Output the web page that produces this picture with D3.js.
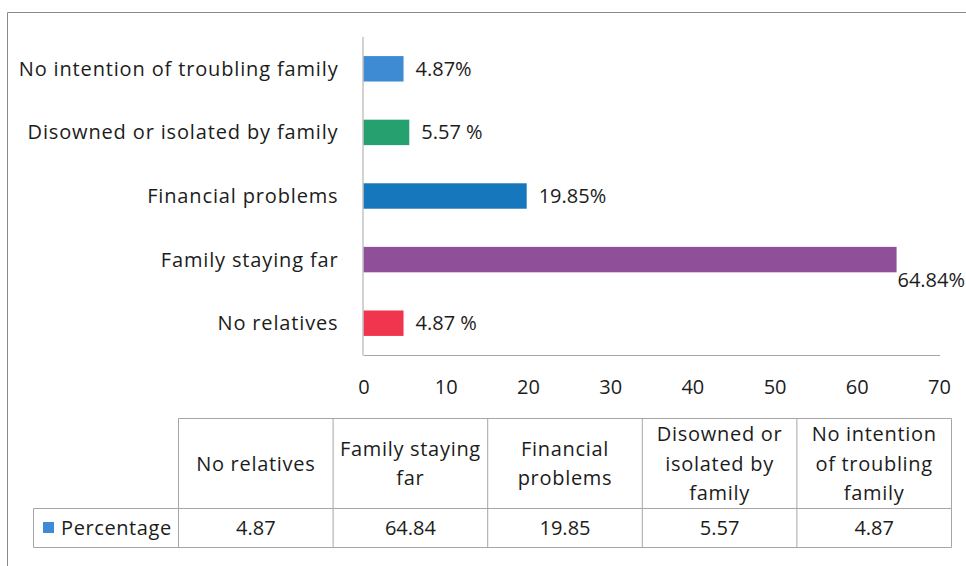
<!DOCTYPE html>
<html>
<head>
<meta charset="utf-8">
<script src="https://cdn.jsdelivr.net/npm/d3@7"></script>
<style>
  html, body { margin: 0; padding: 0; background: #fff; }
  svg { display: block; font-family: "Open Sans", "DejaVu Sans", sans-serif; }
</style>
</head>
<body>
<svg id="chart" width="966" height="566"></svg>
<script>
// Reasons, in table order (bottom bar first)
const categories = [
  "No relatives",
  "Family staying far",
  "Financial problems",
  "Disowned or isolated by family",
  "No intention of troubling family"
];
const values = [4.87, 64.84, 19.85, 5.57, 4.87];
const valueLabels = ["4.87 %", "64.84%", "19.85%", "5.57 %", "4.87%"];
const tableValues = ["4.87", "64.84", "19.85", "5.57", "4.87"];
const tableHeaders = [
  ["No relatives"],
  ["Family staying", "far"],
  ["Financial", "problems"],
  ["Disowned or", "isolated by", "family"],
  ["No intention", "of troubling", "family"]
];
const barColors = ["#f0364e", "#8f4f99", "#1677bd", "#27a06f", "#3e8ad3"];
const xTicks = [0, 10, 20, 30, 40, 50, 60, 70];
const seriesName = "Percentage";
const seriesColor = "#3e8ad4";

const W = 966, H = 566;
const svg = d3.select("#chart");
const textColor = "#1c1c1c";
const gridGrey = "#a6a6a6";

// frame of the chart area
svg.append("path")
  .attr("d", "M7.5,566 L7.5,12.5 L966,12.5")
  .attr("fill", "none")
  .attr("stroke", "#8a8a8a")
  .attr("stroke-width", 1);

// scales
const plot = { left: 363.5, right: 939, top: 37, bottom: 355 };
const x = d3.scaleLinear().domain([0, 70]).range([plot.left, plot.right]);
const y = d3.scaleBand()
  .domain(categories.slice().reverse())
  .range([plot.top, plot.bottom])
  .paddingInner(0.6)
  .paddingOuter(0.3);

// bars
svg.append("g").selectAll("rect")
  .data(categories)
  .join("rect")
  .attr("x", x(0))
  .attr("y", d => y(d))
  .attr("width", (d, i) => x(values[i]) - x(0))
  .attr("height", y.bandwidth())
  .attr("fill", (d, i) => barColors[i]);

// horizontal value axis
const xAxis = svg.append("g")
  .attr("transform", `translate(0,${plot.bottom})`)
  .call(d3.axisBottom(x).tickValues(xTicks).tickSize(0).tickPadding(25).tickFormat(d3.format("d")));
xAxis.select(".domain").attr("stroke", gridGrey).attr("d", `M${plot.left},0.5H${plot.right + 1}`);
xAxis.selectAll("text")
  .attr("fill", textColor)
  .style("font-size", "20px")
  .style("font-family", "'Open Sans', sans-serif");

// category axis
const yAxis = svg.append("g")
  .attr("transform", `translate(${plot.left},0)`)
  .call(d3.axisLeft(y).tickSize(0).tickPadding(25));
yAxis.select(".domain").attr("stroke", gridGrey).attr("d", `M-0.5,${plot.top}V${plot.bottom + 0.5}`);
yAxis.selectAll("text")
  .attr("fill", textColor)
  .attr("dy", "0.35em")
  .style("font-size", "20px")
  .style("letter-spacing", "0.85px")
  .style("font-family", "'Open Sans', sans-serif");

// value labels; a label that would run past the edge drops below the bar end
const labels = svg.append("g").selectAll("text")
  .data(categories)
  .join("text")
  .attr("fill", textColor)
  .style("font-size", "20px")
  .text((d, i) => valueLabels[i])
  .attr("x", (d, i) => x(values[i]) + 12)
  .attr("y", d => y(d) + y.bandwidth() / 2)
  .attr("dy", "0.35em");
labels.each(function (d, i) {
  const el = d3.select(this);
  const w = this.getComputedTextLength();
  if (x(values[i]) + 12 + w > W) {
    el.attr("x", Math.min(x(values[i]) + 4, W - w - 1))
      .attr("y", y(d) + y.bandwidth() + 8);
  }
});

// data table beneath the axis
const tbl = { left: 33.5, colStart: 178.5, right: 951.5, top: 418.5, mid: 508.5, bottom: 547.5 };
const col = d3.scaleBand().domain(categories).range([tbl.colStart, tbl.right]);
const lineH = 29.5;
const tg = svg.append("g").attr("stroke", gridGrey).attr("fill", "none").attr("stroke-width", 1);

// outer lines
tg.append("path").attr("d",
  `M${tbl.colStart},${tbl.top}H${tbl.right}V${tbl.bottom}H${tbl.left}V${tbl.mid}H${tbl.right}`);
// column separators
const seps = [tbl.colStart].concat(categories.map(c => col(c) + col.bandwidth()).slice(0, -1));
tg.selectAll("line.sep")
  .data(seps)
  .join("line")
  .attr("x1", d => d).attr("x2", d => d)
  .attr("y1", tbl.top).attr("y2", tbl.bottom);

// header text
const headG = svg.append("g");
categories.forEach((c, i) => {
  const lines = tableHeaders[i];
  const cy = (tbl.top + tbl.mid) / 2;
  const t = headG.append("text")
    .attr("x", col(c) + col.bandwidth() / 2)
    .attr("text-anchor", "middle")
    .attr("fill", textColor)
    .style("font-size", "20px")
    .style("letter-spacing", "0.7px");
  lines.forEach((ln, k) => {
    t.append("tspan")
      .attr("x", col(c) + col.bandwidth() / 2)
      .attr("y", cy + (k - (lines.length - 1) / 2) * lineH)
      .attr("dy", "0.35em")
      .text(ln);
  });
});

// value row
const rowY = (tbl.mid + tbl.bottom) / 2;
svg.append("g").selectAll("text")
  .data(categories)
  .join("text")
  .attr("x", d => col(d) + col.bandwidth() / 2)
  .attr("y", rowY)
  .attr("dy", "0.35em")
  .attr("text-anchor", "middle")
  .attr("fill", textColor)
  .style("font-size", "20px")
  .text((d, i) => tableValues[i]);

// series key in the first cell
svg.append("rect")
  .attr("x", 43).attr("y", rowY - 6)
  .attr("width", 11).attr("height", 11)
  .attr("fill", seriesColor);
svg.append("text")
  .attr("x", 61)
  .attr("y", rowY)
  .attr("dy", "0.35em")
  .attr("fill", textColor)
  .style("font-size", "20px")
  .style("letter-spacing", "0.6px")
  .text(seriesName);
</script>
</body>
</html>
